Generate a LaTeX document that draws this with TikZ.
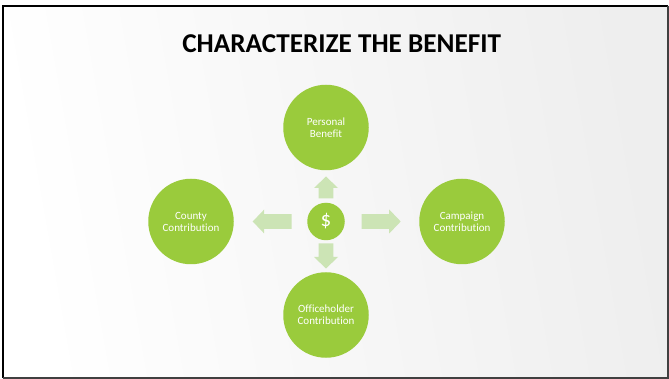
\documentclass[tikz,border=0pt]{standalone}
\usepackage{fontspec}
\setmainfont{Carlito}[Ligatures={NoCommon,NoContextual}]
\usetikzlibrary{calc}
\definecolor{circgreen}{RGB}{154,203,60}
\definecolor{arrgreen}{RGB}{204,228,181}
\definecolor{bgray}{RGB}{238,238,238}
\tikzset{
  bigcirc/.style={circle, fill=circgreen, minimum size=85.5pt, inner sep=0pt,
    text=white, font=\fontsize{11}{12}\selectfont, align=center},
  pics/barrow/.style={code={
    \fill[arrgreen] (0,-7.3) -- (#1-11.5,-7.3) -- (#1-11.5,-12) -- (#1,0)
      -- (#1-11.5,12) -- (#1-11.5,7.3) -- (0,7.3) -- cycle;}}
}
\begin{document}
\begin{tikzpicture}[x=1pt,y=-1pt]
\useasboundingbox (0,0) rectangle (669,379);
\fill[white] (0,0) rectangle (669,379);
\shade[left color=white, right color=bgray, shading angle=100] (3,6) rectangle (668,378);
\draw[line width=2pt] (3,378) -- (3,6) -- (668,6);
\draw[line width=1.2pt, black!75] (668,6) -- (668,378) -- (3,378);

\node[font=\fontsize{27.2}{30}\selectfont\bfseries, anchor=base, inner sep=0pt] (title) at (341.7,52.7) {CHARACTERIZE THE BENEFIT};

\node[circle, fill=circgreen, minimum size=37.5pt, inner sep=0pt, text=white,
  font=\fontsize{21}{22}\selectfont] (d) at (326,221.5) {\$};

\node[bigcirc] (pb) at (326,127.5) {Personal\\Benefit};
\node[bigcirc] (cc) at (191,221.5) {County\\Contribution};
\node[bigcirc] (cp) at (462,221.5) {Campaign\\Contribution};
\node[bigcirc] (oc) at (326,315) {Officeholder\\Contribution};

\pic[rotate=90] at ($(d)+(0,-23)$) {barrow=22};
\pic[rotate=-90] at ($(d)+(0,22)$) {barrow=25};
\pic[rotate=180] at ($(d)+(-34.3,0)$) {barrow=39};
\pic at ($(d)+(35.7,0)$) {barrow=39};
\end{tikzpicture}
\end{document}
